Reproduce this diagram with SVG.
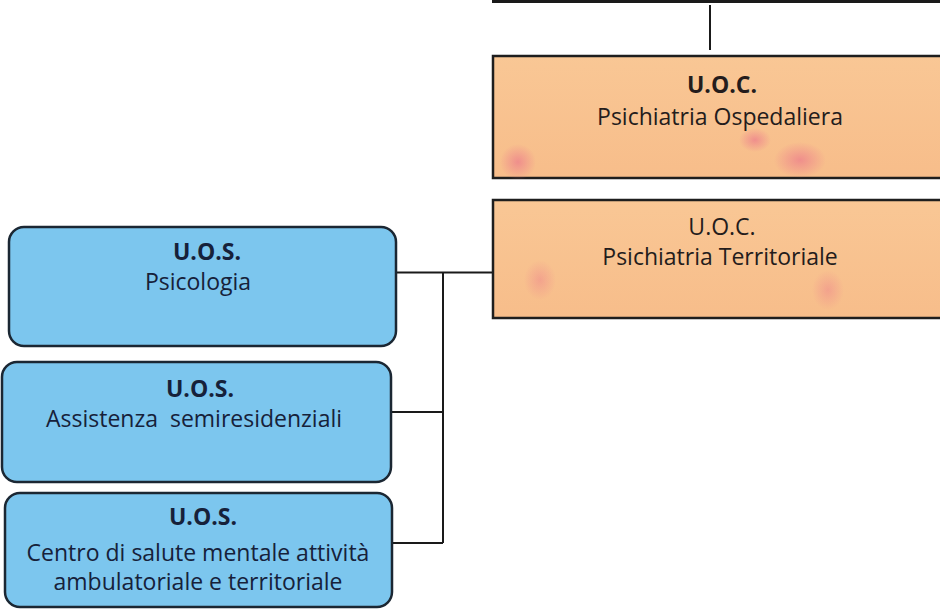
<svg xmlns="http://www.w3.org/2000/svg" width="940" height="610" viewBox="0 0 940 610">
<defs>
<style>
.org{fill:url(#og);stroke:#1e1e1e;stroke-width:2.5}
.blu{fill:#7cc6ee;stroke:#1b2733;stroke-width:2.5}
.t{font-family:"Open Sans","Noto Sans",sans-serif;font-size:23px;fill:#241c1c;text-anchor:middle}
.tb{fill:#16213a}
.b{font-weight:bold}
.ln{stroke:#1a1a1a;stroke-width:2;fill:none}
.spot{fill:url(#pk)}
</style>
<linearGradient id="og" x1="0" y1="0" x2="0" y2="1">
<stop offset="0" stop-color="#f9c795"/>
<stop offset="1" stop-color="#f7bd8a"/>
</linearGradient>
<radialGradient id="pk">
<stop offset="0" stop-color="#ec7a8c" stop-opacity="0.7"/>
<stop offset="1" stop-color="#ec7a8c" stop-opacity="0"/>
</radialGradient>
</defs>
<g id="connectors">
<line class="ln" x1="492" y1="1.5" x2="940" y2="1.5" style="stroke-width:3"/>
<line class="ln" x1="710" y1="5" x2="710" y2="50"/>
<line class="ln" x1="396" y1="272.5" x2="493" y2="272.5"/>
<line class="ln" x1="443" y1="272.5" x2="443" y2="543"/>
<line class="ln" x1="391" y1="412" x2="443" y2="412"/>
<line class="ln" x1="392" y1="543" x2="443" y2="543"/>
</g>
<g id="uoc-ospedaliera">
<rect class="org" x="493" y="56" width="460" height="122"/>
<ellipse class="spot" cx="518" cy="162" rx="18" ry="18"/>
<ellipse class="spot" cx="800" cy="160" rx="26" ry="18"/>
<ellipse class="spot" cx="755" cy="140" rx="16" ry="12"/>
<text class="t b" x="722" y="93">U.O.C.</text>
<text class="t" x="720" y="125">Psichiatria Ospedaliera</text>
</g>
<g id="uoc-territoriale">
<rect class="org" x="493" y="200" width="460" height="118"/>
<ellipse class="spot" cx="540" cy="280" rx="16" ry="20" style="opacity:0.6"/>
<ellipse class="spot" cx="828" cy="290" rx="16" ry="20" style="opacity:0.6"/>
<text class="t" x="722" y="235">U.O.C.</text>
<text class="t" x="720" y="265">Psichiatria Territoriale</text>
</g>
<g id="uos-psicologia">
<rect class="blu" x="9" y="227" width="387" height="119" rx="15"/>
<text class="t tb b" x="207" y="260">U.O.S.</text>
<text class="t tb" x="198" y="290">Psicologia</text>
</g>
<g id="uos-assistenza">
<rect class="blu" x="2" y="362" width="389" height="120" rx="15"/>
<text class="t tb b" x="200" y="397">U.O.S.</text>
<text class="t tb" x="194" y="427" xml:space="preserve">Assistenza  semiresidenziali</text>
</g>
<g id="uos-centro">
<rect class="blu" x="5" y="493" width="387" height="114" rx="15"/>
<text class="t tb b" x="203" y="525">U.O.S.</text>
<text class="t tb" x="198" y="561">Centro di salute mentale attività</text>
<text class="t tb" x="198" y="590">ambulatoriale e territoriale</text>
</g>
</svg>
